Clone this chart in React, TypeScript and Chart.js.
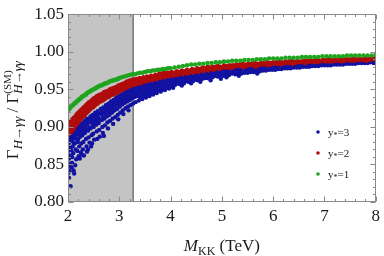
import React, { useEffect, useRef } from 'react';
import { Chart, registerables } from 'chart.js';
Chart.register(...registerables);

// ---------- data ----------
const xTickValues = [2, 3, 4, 5, 6, 7, 8];
const yTickValues = [0.8, 0.85, 0.9, 0.95, 1.0, 1.05];
const shadedRange = [2, 3.27];
const legendValues = ['3', '2', '1'];
const seriesColors = ['#1212a2', '#b00c0c', '#1ea41e'];

// y* = 3 (blue)
const pointsY3: [number, number][] = [
  [2.00,0.887],[2.01,0.878],[2.00,0.868],[2.02,0.858],[2.01,0.847],[2.00,0.838],[2.02,0.832],[2.03,0.885],[2.04,0.872],[2.03,0.862],[2.05,0.821],[2.04,0.851],
  [2.06,0.890],[2.07,0.881],[2.06,0.869],[2.08,0.860],[2.07,0.846],[2.09,0.892],[2.10,0.884],[2.09,0.874],[2.10,0.865],[2.11,0.842],[2.12,0.838],
  [2.13,0.896],[2.14,0.888],[2.13,0.878],[2.15,0.870],[2.16,0.857],[2.17,0.898],[2.18,0.890],[2.19,0.880],[2.18,0.868],[2.20,0.900],[2.21,0.893],[2.20,0.884],[2.22,0.874],[2.21,0.861],
  [2.24,0.903],[2.25,0.896],[2.24,0.887],[2.26,0.878],[2.25,0.866],[2.28,0.905],[2.29,0.898],[2.28,0.889],[2.30,0.880],[2.29,0.870],[2.31,0.862],
  [2.33,0.908],[2.34,0.900],[2.33,0.892],[2.35,0.884],[2.36,0.874],[2.37,0.911],[2.38,0.903],[2.39,0.895],[2.40,0.886],[2.39,0.870],[2.41,0.910],[2.42,0.879],
  [2.44,0.914],[2.45,0.906],[2.44,0.898],[2.46,0.889],[2.47,0.878],[2.48,0.916],[2.49,0.909],[2.50,0.900],[2.49,0.891],[2.51,0.883],
  [2.53,0.919],[2.54,0.911],[2.55,0.903],[2.56,0.894],[2.57,0.884],[2.58,0.921],[2.59,0.913],[2.60,0.905],[2.61,0.896],[2.62,0.887],
  [2.64,0.924],[2.65,0.917],[2.66,0.909],[2.67,0.900],[2.68,0.892],[2.69,0.926],[2.70,0.919],[2.71,0.911],[2.72,0.902],[2.70,0.888],
  [2.74,0.929],[2.75,0.922],[2.76,0.914],[2.77,0.906],[2.78,0.898],[2.79,0.931],[2.80,0.924],[2.81,0.916],[2.82,0.908],
  [2.84,0.934],[2.85,0.927],[2.86,0.919],[2.87,0.911],[2.88,0.904],[2.89,0.936],[2.90,0.929],[2.91,0.922],[2.92,0.913],
  [2.94,0.939],[2.95,0.932],[2.96,0.924],[2.97,0.916],[2.98,0.910],[2.99,0.941],[3.00,0.935],[3.01,0.927],[3.02,0.919],
  [3.04,0.943],[3.05,0.937],[3.06,0.930],[3.07,0.922],[3.09,0.945],[3.10,0.939],[3.11,0.932],[3.12,0.925],[3.08,0.917],
  [3.14,0.947],[3.15,0.941],[3.16,0.934],[3.17,0.927],[3.19,0.949],[3.20,0.943],[3.21,0.936],[3.22,0.929],[3.18,0.922],
  [3.24,0.951],[3.25,0.945],[3.26,0.938],[3.27,0.931],[3.29,0.952],[3.30,0.946],[3.31,0.940],[3.32,0.933],
  [2.02,0.880],[2.05,0.884],[2.08,0.887],[2.11,0.889],[2.12,0.878],[2.15,0.893],[2.17,0.884],[2.19,0.895],[2.22,0.897],[2.23,0.889],[2.26,0.900],[2.27,0.892],
  [2.30,0.902],[2.32,0.895],[2.35,0.906],[2.36,0.897],[2.40,0.907],[2.42,0.899],[2.43,0.911],[2.46,0.912],[2.48,0.903],[2.51,0.914],[2.52,0.906],[2.56,0.916],
  [2.57,0.908],[2.60,0.918],[2.62,0.910],[2.66,0.921],[2.68,0.913],[2.72,0.924],[2.73,0.917],[2.77,0.926],[2.78,0.920],[2.82,0.928],[2.83,0.922],[2.87,0.931],
  [2.88,0.925],[2.92,0.934],[2.93,0.928],[2.97,0.936],[2.98,0.930],[3.02,0.938],[3.03,0.932],[3.07,0.940],[3.08,0.934],[3.12,0.942],[3.13,0.937],[3.17,0.944],
  [3.18,0.939],[3.22,0.947],[3.23,0.941],[3.27,0.948],[3.28,0.943],[3.33,0.950],[3.34,0.944],
  [2.03,0.841],[2.08,0.852],[2.14,0.849],[2.23,0.858],[2.27,0.863],[2.37,0.867],[2.45,0.874],
  [3.35,0.954],[3.36,0.948],[3.37,0.941],[3.38,0.935],[3.42,0.955],[3.43,0.949],[3.44,0.943],[3.45,0.937],[3.49,0.957],[3.50,0.951],[3.51,0.945],[3.52,0.939],
  [3.56,0.958],[3.57,0.952],[3.58,0.946],[3.59,0.941],[3.63,0.960],[3.64,0.954],[3.65,0.948],[3.66,0.943],[3.70,0.961],[3.71,0.956],[3.72,0.950],[3.73,0.945],
  [3.78,0.963],[3.79,0.957],[3.80,0.952],[3.81,0.947],[3.86,0.964],[3.87,0.959],[3.88,0.953],[3.89,0.949],[3.94,0.966],[3.95,0.961],[3.96,0.955],[3.97,0.951],
  [4.02,0.967],[4.03,0.962],[4.04,0.957],[4.05,0.952],[4.11,0.968],[4.12,0.963],[4.13,0.958],[4.19,0.970],[4.20,0.965],[4.21,0.960],[4.22,0.955],[4.28,0.971],[4.29,0.966],[4.30,0.961],
  [4.37,0.972],[4.38,0.967],[4.39,0.962],[4.40,0.958],[4.46,0.973],[4.47,0.968],[4.48,0.963],
  [4.55,0.974],[4.56,0.969],[4.57,0.964],[4.58,0.960],[4.65,0.975],[4.66,0.970],[4.67,0.965],[4.75,0.976],[4.76,0.971],[4.77,0.967],[4.78,0.962],
  [4.85,0.977],[4.86,0.972],[4.87,0.968],[4.95,0.977],[4.96,0.973],[4.97,0.969],[4.98,0.964],
  [5.06,0.978],[5.07,0.974],[5.08,0.970],[5.09,0.966],[5.18,0.979],[5.19,0.975],[5.20,0.971],[5.30,0.980],[5.31,0.976],[5.32,0.972],[5.33,0.968],[5.42,0.980],[5.43,0.976],[5.44,0.972],
  [5.54,0.981],[5.55,0.977],[5.56,0.973],[5.66,0.982],[5.67,0.978],[5.68,0.974],[5.69,0.971],[5.78,0.982],[5.79,0.979],[5.80,0.975],[5.90,0.983],[5.91,0.980],[5.92,0.976],
  [6.02,0.984],[6.03,0.980],[6.04,0.976],[6.14,0.984],[6.15,0.981],[6.16,0.977],[6.26,0.985],[6.27,0.982],[6.28,0.978],[6.38,0.985],[6.39,0.982],[6.40,0.979],
  [6.50,0.986],[6.51,0.983],[6.52,0.979],[6.62,0.986],[6.63,0.983],[6.64,0.980],[6.74,0.987],[6.75,0.984],[6.76,0.981],[6.86,0.987],[6.87,0.984],[6.88,0.981],
  [6.98,0.988],[6.99,0.985],[7.00,0.982],[7.10,0.988],[7.11,0.985],[7.12,0.982],[7.22,0.988],[7.23,0.986],[7.24,0.983],[7.34,0.989],[7.35,0.986],[7.36,0.983],[7.46,0.989],[7.47,0.986],[7.48,0.984],
  [7.58,0.989],[7.59,0.987],[7.60,0.984],[7.70,0.989],[7.71,0.987],[7.72,0.985],[7.82,0.990],[7.83,0.987],[7.84,0.985],[7.94,0.990],[7.95,0.988],[7.96,0.985],[8.00,0.989],
  [3.39,0.952],[3.40,0.946],[3.41,0.939],[3.46,0.954],[3.47,0.947],[3.48,0.941],[3.53,0.955],[3.54,0.949],[3.55,0.943],
  [3.60,0.956],[3.61,0.950],[3.62,0.944],[3.67,0.958],[3.68,0.952],[3.69,0.947],[3.75,0.959],[3.76,0.954],[3.77,0.948],
  [3.83,0.961],[3.84,0.955],[3.85,0.950],[3.91,0.962],[3.92,0.957],[3.93,0.952],[3.99,0.964],[4.00,0.959],[4.01,0.954],
  [4.07,0.965],[4.08,0.960],[4.09,0.956],[4.15,0.966],[4.16,0.961],[4.17,0.957],[4.24,0.968],[4.25,0.963],[4.26,0.958],
  [4.33,0.969],[4.34,0.964],[4.35,0.960],[4.42,0.970],[4.43,0.965],[4.44,0.961],[4.51,0.971],[4.52,0.967],[4.53,0.962],
  [4.60,0.972],[4.61,0.968],[4.62,0.964],[4.70,0.973],[4.71,0.969],[4.72,0.965],[4.80,0.974],[4.81,0.970],[4.82,0.966],
  [4.90,0.975],[4.91,0.971],[4.92,0.967],[5.01,0.976],[5.02,0.972],[5.03,0.968],[5.12,0.977],[5.13,0.973],[5.14,0.969],
  [5.24,0.977],[5.25,0.974],[5.26,0.970],[5.36,0.978],[5.37,0.975],[5.38,0.971],[5.48,0.979],[5.49,0.975],[5.50,0.972],
  [5.60,0.980],[5.61,0.976],[5.62,0.973],[5.72,0.980],[5.73,0.977],[5.74,0.974],[5.84,0.981],[5.85,0.978],[5.86,0.975],
  [5.96,0.982],[5.97,0.979],[5.98,0.976],[6.08,0.982],[6.09,0.979],[6.10,0.977],[6.20,0.983],[6.21,0.980],[6.22,0.978],
  [6.32,0.983],[6.33,0.981],[6.34,0.978],[6.44,0.984],[6.45,0.981],[6.46,0.979],[6.56,0.984],[6.57,0.982],[6.58,0.980],
  [6.68,0.985],[6.69,0.982],[6.70,0.980],[6.80,0.985],[6.81,0.983],[6.82,0.981],[6.92,0.986],[6.93,0.983],[6.94,0.982],
  [7.04,0.986],[7.05,0.984],[7.06,0.982],[7.16,0.987],[7.17,0.984],[7.18,0.983],[7.28,0.987],[7.29,0.985],[7.30,0.983],
  [7.40,0.987],[7.41,0.985],[7.42,0.984],[7.52,0.988],[7.53,0.986],[7.54,0.984],[7.64,0.988],[7.65,0.986],[7.66,0.985],
  [7.76,0.988],[7.77,0.987],[7.78,0.985],[7.88,0.989],[7.89,0.987],[7.90,0.986],
];

// y* = 2 (red)
const pointsY2: [number, number][] = [
  [2.00,0.903],[2.00,0.896],[2.01,0.890],[2.02,0.905],[2.03,0.898],[2.04,0.892],[2.05,0.907],[2.06,0.900],[2.07,0.894],[2.08,0.910],[2.09,0.903],[2.10,0.897],[2.11,0.912],
  [2.12,0.906],[2.13,0.900],[2.14,0.914],[2.15,0.908],[2.16,0.903],[2.17,0.917],[2.18,0.911],[2.19,0.905],[2.20,0.919],[2.21,0.913],[2.22,0.908],
  [2.23,0.921],[2.24,0.916],[2.25,0.910],[2.26,0.923],[2.27,0.918],[2.28,0.913],[2.29,0.925],[2.30,0.920],[2.31,0.914],
  [2.32,0.927],[2.33,0.922],[2.34,0.917],[2.35,0.929],[2.36,0.924],[2.37,0.919],[2.38,0.931],[2.39,0.926],[2.40,0.921],
  [2.41,0.933],[2.42,0.928],[2.43,0.923],[2.44,0.934],[2.45,0.930],[2.46,0.925],[2.47,0.936],[2.48,0.931],[2.49,0.926],
  [2.50,0.938],[2.51,0.933],[2.52,0.928],[2.53,0.939],[2.54,0.935],[2.55,0.930],[2.56,0.941],[2.57,0.936],[2.58,0.931],
  [2.59,0.942],[2.60,0.938],[2.61,0.933],[2.62,0.943],[2.63,0.939],[2.64,0.934],[2.66,0.944],[2.67,0.940],[2.68,0.935],
  [2.70,0.946],[2.71,0.942],[2.72,0.937],[2.74,0.947],[2.75,0.943],[2.76,0.939],[2.78,0.948],[2.79,0.944],[2.80,0.940],
  [2.82,0.950],[2.83,0.946],[2.84,0.942],[2.86,0.951],[2.87,0.947],[2.88,0.943],[2.90,0.952],[2.91,0.948],[2.92,0.944],
  [2.94,0.953],[2.95,0.950],[2.96,0.946],[2.98,0.955],[2.99,0.951],[3.00,0.947],
  [3.02,0.956],[3.03,0.952],[3.04,0.949],[3.06,0.957],[3.07,0.954],[3.08,0.950],[3.10,0.958],[3.11,0.955],[3.12,0.951],[3.14,0.960],[3.15,0.956],[3.16,0.953],
  [3.18,0.961],[3.19,0.957],[3.20,0.954],[3.22,0.962],[3.23,0.958],[3.24,0.955],[3.27,0.963],[3.28,0.959],[3.29,0.956],
  [3.33,0.964],[3.34,0.960],[3.35,0.957],[3.40,0.965],[3.41,0.962],[3.42,0.958],[3.47,0.966],[3.48,0.963],[3.49,0.960],[3.54,0.967],[3.55,0.964],[3.56,0.961],
  [3.62,0.968],[3.63,0.965],[3.64,0.962],[3.70,0.969],[3.71,0.966],[3.72,0.963],[3.78,0.971],[3.79,0.968],[3.80,0.965],[3.86,0.972],[3.87,0.969],[3.88,0.966],[3.94,0.972],[3.95,0.970],[3.96,0.967],
  [4.02,0.973],[4.03,0.970],[4.04,0.968],[4.12,0.974],[4.13,0.971],[4.14,0.969],[4.22,0.975],[4.23,0.973],[4.24,0.970],[4.32,0.976],[4.33,0.974],[4.34,0.971],
  [4.42,0.977],[4.43,0.975],[4.44,0.972],[4.52,0.978],[4.53,0.976],[4.54,0.973],[4.62,0.979],[4.63,0.977],[4.64,0.974],[4.72,0.980],[4.73,0.977],[4.74,0.975],
  [4.82,0.980],[4.83,0.978],[4.84,0.976],[4.92,0.981],[4.93,0.979],[4.94,0.977],
  [5.04,0.982],[5.05,0.979],[5.16,0.982],[5.17,0.980],[5.18,0.978],[5.28,0.983],[5.29,0.981],[5.40,0.984],[5.41,0.981],[5.42,0.979],[5.52,0.984],[5.53,0.982],
  [5.64,0.985],[5.65,0.982],[5.66,0.980],[5.76,0.985],[5.77,0.983],[5.88,0.986],[5.89,0.984],[5.90,0.982],[6.00,0.986],[6.01,0.984],
  [6.12,0.987],[6.13,0.985],[6.14,0.983],[6.24,0.987],[6.25,0.985],[6.36,0.988],[6.37,0.986],[6.38,0.984],[6.48,0.988],[6.49,0.986],
  [6.60,0.988],[6.61,0.986],[6.62,0.985],[6.72,0.989],[6.73,0.987],[6.84,0.989],[6.85,0.987],[6.86,0.986],[6.96,0.989],[6.97,0.988],
  [7.08,0.990],[7.09,0.988],[7.10,0.987],[7.20,0.990],[7.21,0.988],[7.32,0.990],[7.33,0.989],[7.34,0.987],[7.44,0.990],[7.45,0.989],
  [7.56,0.991],[7.57,0.989],[7.58,0.988],[7.68,0.991],[7.69,0.989],[7.80,0.991],[7.81,0.990],[7.82,0.988],[7.92,0.991],[7.93,0.990],[8.00,0.991],
  [3.37,0.962],[3.38,0.959],[3.44,0.964],[3.45,0.961],[3.51,0.965],[3.52,0.962],[3.58,0.966],[3.59,0.963],[3.66,0.967],[3.67,0.964],[3.74,0.968],[3.75,0.965],
  [3.82,0.970],[3.83,0.967],[3.90,0.971],[3.91,0.968],[3.98,0.972],[3.99,0.969],
  [4.07,0.972],[4.08,0.969],[4.17,0.973],[4.18,0.971],[4.27,0.974],[4.28,0.972],[4.37,0.975],[4.38,0.973],[4.47,0.976],[4.48,0.974],[4.57,0.977],[4.58,0.975],
  [4.67,0.978],[4.68,0.976],[4.77,0.979],[4.78,0.977],[4.87,0.980],[4.88,0.978],[4.97,0.980],[4.98,0.978],
  [5.10,0.981],[5.11,0.979],[5.22,0.982],[5.23,0.980],[5.34,0.983],[5.35,0.981],[5.46,0.983],[5.47,0.981],[5.58,0.984],[5.59,0.982],[5.70,0.984],[5.71,0.982],
  [5.82,0.985],[5.83,0.983],[5.94,0.985],[5.95,0.983],
  [6.06,0.986],[6.07,0.984],[6.18,0.986],[6.19,0.984],[6.30,0.987],[6.31,0.985],[6.42,0.987],[6.43,0.985],[6.54,0.987],[6.55,0.986],[6.66,0.988],[6.67,0.986],
  [6.78,0.988],[6.79,0.986],[6.90,0.988],[6.91,0.987],
  [7.02,0.989],[7.03,0.987],[7.14,0.989],[7.15,0.987],[7.26,0.989],[7.27,0.988],[7.38,0.990],[7.39,0.988],[7.50,0.990],[7.51,0.988],[7.62,0.990],[7.63,0.989],
  [7.74,0.990],[7.75,0.989],[7.86,0.991],[7.87,0.989],[7.96,0.991],[7.97,0.990],
];

// y* = 1 (green)
const pointsY1: [number, number][] = [
  [2.00,0.922],[2.00,0.925],[2.03,0.924],[2.05,0.926],[2.07,0.928],[2.10,0.929],[2.12,0.931],[2.15,0.932],[2.17,0.934],[2.20,0.935],[2.22,0.937],[2.25,0.938],
  [2.27,0.940],[2.30,0.941],[2.32,0.942],[2.35,0.943],[2.37,0.945],[2.40,0.946],[2.42,0.947],[2.45,0.948],[2.47,0.949],[2.50,0.950],[2.53,0.951],[2.55,0.952],
  [2.58,0.953],[2.60,0.954],[2.63,0.955],[2.65,0.955],[2.68,0.956],[2.70,0.957],[2.73,0.958],[2.75,0.958],[2.78,0.959],[2.80,0.960],[2.83,0.961],[2.85,0.961],
  [2.88,0.962],[2.90,0.962],[2.93,0.963],[2.95,0.963],[2.98,0.964],[3.00,0.965],[3.05,0.966],[3.10,0.967],[3.15,0.968],[3.20,0.969],[3.25,0.970],[3.30,0.970],
  [3.35,0.971],[3.40,0.972],[3.45,0.972],[3.50,0.973],[3.55,0.974],[3.60,0.974],[3.65,0.975],[3.70,0.975],[3.75,0.976],[3.80,0.976],[3.85,0.977],[3.90,0.977],
  [3.95,0.978],[4.00,0.978],[4.08,0.979],[4.16,0.980],[4.24,0.981],[4.32,0.982],[4.40,0.983],[4.48,0.983],[4.56,0.984],[4.64,0.984],[4.72,0.985],[4.80,0.985],
  [4.88,0.986],[4.96,0.986],[5.04,0.987],[5.12,0.987],[5.20,0.988],[5.28,0.988],[5.36,0.988],[5.44,0.989],[5.52,0.989],[5.60,0.989],[5.68,0.990],[5.76,0.990],
  [5.84,0.990],[5.92,0.991],[6.00,0.991],[6.08,0.991],[6.16,0.991],[6.24,0.992],[6.32,0.992],[6.40,0.992],[6.48,0.992],[6.56,0.993],[6.64,0.993],[6.72,0.993],
  [6.80,0.993],[6.88,0.993],[6.96,0.994],[7.04,0.994],[7.12,0.994],[7.20,0.994],[7.28,0.994],[7.36,0.994],[7.44,0.995],[7.52,0.995],[7.60,0.995],[7.68,0.995],
  [7.76,0.995],[7.84,0.995],[7.92,0.995],[8.00,0.996],
];

// ---------- drawing helpers ----------
const SERIF = '"Liberation Serif", "DejaVu Serif", serif';
const TEXT_COLOR = '#1a1a1a';
const FRAME_COLOR = '#8a8a8a';

type Run = { t: string; font: string; dy: number; stackWith?: { t: string; font: string; dy: number } };

function runsWidth(ctx: CanvasRenderingContext2D, runs: Run[]) {
  let w = 0;
  for (const r of runs) {
    ctx.font = r.font;
    let rw = ctx.measureText(r.t).width;
    if (r.stackWith) {
      ctx.font = r.stackWith.font;
      rw = Math.max(rw, ctx.measureText(r.stackWith.t).width);
    }
    w += rw;
  }
  return w;
}

function drawRuns(ctx: CanvasRenderingContext2D, runs: Run[], x: number, y: number) {
  let cx = x;
  for (const r of runs) {
    ctx.font = r.font;
    ctx.fillText(r.t, cx, y + r.dy);
    let rw = ctx.measureText(r.t).width;
    if (r.stackWith) {
      ctx.font = r.stackWith.font;
      ctx.fillText(r.stackWith.t, cx, y + r.stackWith.dy);
      rw = Math.max(rw, ctx.measureText(r.stackWith.t).width);
    }
    cx += rw;
  }
}

const decorPlugin = {
  id: 'decor',
  beforeDatasetsDraw(chart: any) {
    const { ctx, chartArea: a, scales } = chart;
    const x0 = scales.x.getPixelForValue(shadedRange[0]);
    const x1 = scales.x.getPixelForValue(shadedRange[1]);
    ctx.save();
    ctx.fillStyle = '#c4c4c4';
    ctx.fillRect(x0, a.top, x1 - x0, a.bottom - a.top);
    ctx.strokeStyle = '#7c7c7c';
    ctx.lineWidth = 1.6;
    ctx.beginPath();
    ctx.moveTo(x1, a.top);
    ctx.lineTo(x1, a.bottom);
    ctx.stroke();
    ctx.restore();
  },
  afterDraw(chart: any) {
    const { ctx, chartArea: a, scales } = chart;
    const xs = scales.x, ys = scales.y;
    ctx.save();
    ctx.strokeStyle = FRAME_COLOR;
    ctx.lineWidth = 1;
    const L = Math.round(a.left) + 0.5, R = Math.round(a.right) - 0.5;
    const T = Math.round(a.top) + 0.5, B = Math.round(a.bottom) - 0.5;
    ctx.strokeRect(L, T, R - L, B - T);
    ctx.beginPath();
    const xMin = xTickValues[0], xMax = xTickValues[xTickValues.length - 1];
    for (let k = 0; k <= (xMax - xMin) * 5; k++) {
      const v = xMin + k * 0.2;
      const len = k % 5 === 0 ? 5 : 2.5;
      const px = Math.round(xs.getPixelForValue(v)) + 0.5;
      ctx.moveTo(px, B); ctx.lineTo(px, B - len);
      ctx.moveTo(px, T); ctx.lineTo(px, T + len);
    }
    const yMin = yTickValues[0], yMax = yTickValues[yTickValues.length - 1];
    for (let k = 0; k <= Math.round((yMax - yMin) * 100); k++) {
      const v = yMin + k * 0.01;
      const len = k % 5 === 0 ? 5 : 2.5;
      const py = Math.round(ys.getPixelForValue(v)) + 0.5;
      ctx.moveTo(L, py); ctx.lineTo(L + len, py);
      ctx.moveTo(R, py); ctx.lineTo(R - len, py);
    }
    ctx.stroke();

    ctx.fillStyle = TEXT_COLOR;
    ctx.textBaseline = 'alphabetic';
    ctx.textAlign = 'left';

    const xRuns: Run[] = [
      { t: 'M', font: `italic 17px ${SERIF}`, dy: 0 },
      { t: 'KK', font: `12px ${SERIF}`, dy: 4 },
      { t: ' (TeV)', font: `17px ${SERIF}`, dy: 0 },
    ];
    const xw = runsWidth(ctx, xRuns);
    drawRuns(ctx, xRuns, (a.left + a.right) / 2 - xw / 2, 251);

    const yRuns: Run[] = [
      { t: 'Γ', font: `17px ${SERIF}`, dy: 0 },
      { t: 'H→γγ', font: `italic 13px ${SERIF}`, dy: 4 },
      { t: ' / ', font: `17px ${SERIF}`, dy: 0 },
      { t: 'Γ', font: `17px ${SERIF}`, dy: 0 },
      { t: '(SM)', font: `11px ${SERIF}`, dy: -7, stackWith: { t: 'H→γγ', font: `italic 13px ${SERIF}`, dy: 4 } },
    ];
    const yw = runsWidth(ctx, yRuns);
    ctx.save();
    ctx.translate(18, (a.top + a.bottom) / 2 + 2);
    ctx.rotate(-Math.PI / 2);
    drawRuns(ctx, yRuns, -yw / 2, 0);
    ctx.restore();

    const legendX = 318, legendY0 = 132, legendDy = 21;
    legendValues.forEach((val, i) => {
      const ly = legendY0 + i * legendDy;
      ctx.fillStyle = seriesColors[i];
      ctx.beginPath();
      ctx.arc(legendX, ly, 1.8, 0, Math.PI * 2);
      ctx.fill();
      ctx.fillStyle = TEXT_COLOR;
      drawRuns(ctx, [
        { t: 'y', font: `11px ${SERIF}`, dy: 0 },
        { t: '*', font: `8px ${SERIF}`, dy: 2 },
        { t: '=' + val, font: `11px ${SERIF}`, dy: 0 },
      ], legendX + 10, ly + 4);
    });
    ctx.restore();
  },
};

const toXY = (pts: [number, number][]) => pts.map(([x, y]) => ({ x, y }));

export default function App() {
  const ref = useRef<HTMLCanvasElement>(null);
  useEffect(() => {
    const tickFont = { family: SERIF, size: 17 };
    const chart = new Chart(ref.current!, {
      type: 'scatter',
      data: {
        datasets: [
          { label: 'y*=1', data: toXY(pointsY1), backgroundColor: seriesColors[2], pointRadius: 2.3, pointBorderWidth: 0, order: 0, clip: 0 } as any,
          { label: 'y*=2', data: toXY(pointsY2), backgroundColor: seriesColors[1], pointRadius: 2.2, pointBorderWidth: 0, order: 1, clip: 0 } as any,
          { label: 'y*=3', data: toXY(pointsY3), backgroundColor: seriesColors[0], pointRadius: 2.2, pointBorderWidth: 0, order: 2, clip: 0 } as any,
        ],
      },
      options: {
        responsive: false,
        animation: false,
        devicePixelRatio: 1,
        events: [],
        layout: { padding: { top: 10, right: 6, left: 0, bottom: 0 } },
        plugins: { legend: { display: false }, tooltip: { enabled: false } },
        scales: {
          x: {
            type: 'linear',
            min: xTickValues[0],
            max: xTickValues[xTickValues.length - 1],
            grid: { display: false, drawTicks: false },
            border: { display: false },
            afterBuildTicks: (s: any) => { s.ticks = xTickValues.map((v) => ({ value: v })); },
            afterFit: (s: any) => { s.height = 54; },
            ticks: { font: tickFont, color: TEXT_COLOR, padding: 4, maxRotation: 0, autoSkip: false, callback: (v: any) => String(v) },
          },
          y: {
            type: 'linear',
            min: yTickValues[0],
            max: yTickValues[yTickValues.length - 1],
            grid: { display: false, drawTicks: false },
            border: { display: false },
            afterBuildTicks: (s: any) => { s.ticks = yTickValues.map((v) => ({ value: v })); },
            afterFit: (s: any) => { s.width = 68; },
            ticks: { font: tickFont, color: TEXT_COLOR, padding: 4, autoSkip: false, callback: (v: any) => Number(v).toFixed(2) },
          },
        },
      },
      plugins: [decorPlugin],
    } as any);
    return () => chart.destroy();
  }, []);
  return (
    <div style={{ position: 'fixed', left: 0, top: 0, width: 384, height: 256, background: '#fff' }}>
      <canvas ref={ref} width={384} height={256} style={{ display: 'block', width: 384, height: 256 }} />
    </div>
  );
}
